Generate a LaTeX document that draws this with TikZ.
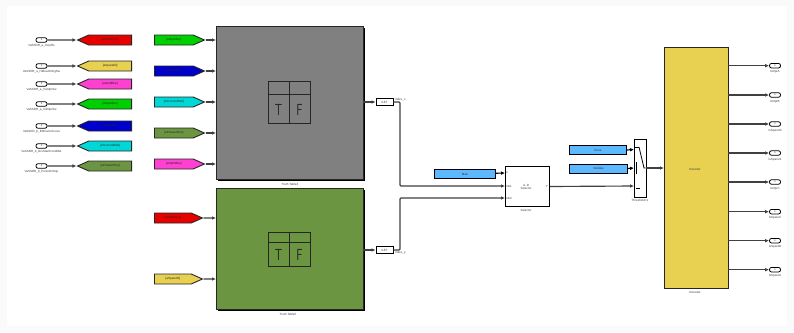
\documentclass[tikz,border=0pt]{standalone}
\usepackage{fontspec}
\setmainfont{Liberation Sans}
\usetikzlibrary{shapes.symbols,shapes.geometric,arrows.meta}
\definecolor{cred}{HTML}{E60000}
\definecolor{cyel}{HTML}{E8D050}
\definecolor{cmag}{HTML}{FF40D0}
\definecolor{cgrn}{HTML}{00D000}
\definecolor{cblu}{HTML}{0000CC}
\definecolor{ccya}{HTML}{00D8D8}
\definecolor{coli}{HTML}{6B9540}
\definecolor{cgry}{HTML}{808080}
\definecolor{csky}{HTML}{5CB8FF}
\newcommand{\tiptxt}{\fontsize{3}{3.5}\selectfont}
\tikzset{
  wire/.style={draw=black!75,line width=1.15pt,-{Latex[length=4pt,width=3.6pt]}},
  tagbase/.style={draw=black!85,line width=0.9pt,signal,signal pointer angle=48,inner sep=0pt,minimum height=10pt,font=\tiptxt,text=black!85},
  fromtag/.style={tagbase,signal to=east,signal from=nowhere,anchor=west,minimum width=50pt},
  gototag/.style={tagbase,signal to=west,signal from=nowhere,anchor=east,minimum width=54pt},
  port/.style={draw=black,line width=0.8pt,fill=white,rounded corners=2pt,minimum width=11pt,minimum height=4.5pt,inner sep=0pt,font=\fontsize{2.5}{3}\selectfont},
  lbl/.style={font=\tiptxt,text=black!75,inner sep=0pt},
  blk/.style={draw=black!85,line width=1pt,anchor=north west,inner sep=0pt},
  constb/.style={draw=black,line width=1pt,fill=csky,anchor=north west,inner sep=0pt,font=\tiptxt,text=black!80},
  getb/.style={draw=black,line width=0.9pt,fill=white,minimum width=17pt,minimum height=7.5pt,inner sep=0pt,font=\tiptxt,text=black!70},
  tfline/.style={draw=black!85,line width=0.9pt},
  tfbig/.style={font=\fontsize{16}{17}\selectfont\sffamily,text=black!85,inner sep=0pt,xscale=0.72}
}
\begin{document}
\begin{tikzpicture}[x=1pt,y=-1pt]
\useasboundingbox (0,0) rectangle (794,332);
\fill[black!2] (0,0) rectangle (794,332);
\fill[white] (7,6) rectangle (787,326);

% Left column: inports and tags
\foreach \nm/\y/\lab/\tg/\col in {
  a/40/VaSSDR\_a\_KeyIRs/[aKIRsKeys]/cred,
  b/66/VaSSDR\_a\_HiBeamOrigSw/[aSpareIO]/cyel,
  c/84/VaSSDR\_a\_InvOprSw/[aOprMBar]/cmag,
  d/104/VaSSDR\_a\_InitOprSw/[aOprABar]/cgrn,
  e/126/VaSSDR\_b\_EbtCalcnCurve/[aOprBBar]/cblu,
  f/146/VaSSDR\_b\_GrsStartCondMet/[aSrvCondMet]/ccya,
  g/166/VaSSDR\_b\_PeriodicStop/[aPressurRun]/coli}{
  \node[port] (in\nm) at (41.5,\y) {1};
  \node[lbl,anchor=north] (inl\nm) at (41.5,\y+4) {\lab};
  \node[gototag,fill=\col] (go\nm) at (132,\y) {\tg};
  \draw[wire] (in\nm) -- (go\nm);
}

% Truth tables
\fill[black] (218,28) rectangle (365,181);
\node[blk,fill=cgry,minimum width=147pt,minimum height=153pt] (tt1) at (216,26) {};
\node[lbl] (tt1l) at (290,184) {Truth Table4};
\fill[black] (218,190) rectangle (365,311);
\node[blk,fill=coli,minimum width=147pt,minimum height=121.5pt] (tt2) at (216,187.5) {};
\node[lbl] (tt2l) at (288,314.5) {Truth Table5};

% Truth-table icons
\draw[tfline] (268,81) rectangle (310,123) (268,94.5) -- (310,94.5) (289,81) -- (289,123);
\node[tfbig] (t1) at (278.5,110) {T};
\node[tfbig] (f1) at (299.5,110) {F};
\draw[tfline] (268,232) rectangle (310.5,266) (268,242.5) -- (310.5,242.5) (289.3,232) -- (289.3,266);
\node[tfbig] (t2) at (278.5,254.5) {T};
\node[tfbig] (f2) at (299.5,254.5) {F};

% From tags into truth tables
\foreach \nm/\y/\tg/\col in {
  h/40/[aOprABar]/cgrn,
  i/71/[aOprBBar]/cblu,
  j/102/[aSrvCondMet]/ccya,
  k/133/[aPressurRun]/coli,
  l/164/[aOprMBar]/cmag}{
  \node[fromtag,fill=\col] (fr\nm) at (154,\y) {\tg};
  \coordinate (e\nm) at (216,\y);
  \draw[wire] (fr\nm) -- (e\nm);
}
\foreach \nm/\y/\tg/\col in {m/218/[aKIRsKeys]/cred,n/279/[aSpareIO]/cyel}{
  \node[fromtag,fill=\col,minimum width=48pt] (fr\nm) at (154,\y) {\tg};
  \coordinate (e\nm) at (216,\y);
  \draw[wire] (fr\nm) -- (e\nm);
}

% GET and selector
\node[getb] (get1) at (384.5,102) {GET};
\node[getb] (get2) at (384.5,250) {GET};
\coordinate (o1) at (363,102);
\coordinate (o2) at (363,250);
\draw[wire] (o1) -- (get1);
\draw[wire] (o2) -- (get2);
\node[lbl,anchor=west] (ix) at (395,100) {index\_x};
\node[lbl,anchor=west] (iy) at (395,253) {index\_y};
\node[blk,fill=white,draw=black,minimum width=44pt,minimum height=40pt] (sel) at (505,166) {};
\node[lbl,align=center] (seltxt) at (526,187) {A..D\\Selector};
\node[lbl,anchor=west] (su) at (506,173) {u};
\node[lbl,anchor=west] (si1) at (506,186) {Idx1};
\node[lbl,anchor=west] (si2) at (506,198) {Idx2};
\node[lbl,anchor=east] (sy) at (548,186) {Y};
\node[lbl] (sell) at (526,210) {Selector};
\coordinate (s1) at (505,186);
\coordinate (s2) at (505,198);
\coordinate (s3) at (505,173);
\draw[wire,rounded corners=1pt] (get1.east) -- (400,102) -- (400,186) -- (s1);
\draw[wire,rounded corners=1pt] (get2.east) -- (400,250) -- (400,198) -- (s2);
\node[constb,minimum width=61pt,minimum height=9pt] (mainb) at (434,169) {Main};
\draw[wire,draw=black] (mainb) -- (s3);

% Constants and switch
\node[constb,minimum width=57pt,minimum height=9pt] (done) at (569,145) {Done};
\node[constb,minimum width=58pt,minimum height=9pt] (valid) at (569,163.5) {Validate};
\node[blk,fill=white,draw=black,minimum width=11.5pt,minimum height=58pt] (sw) at (634,139) {};
\node[lbl] (swl) at (640,200) {Threshold=1};
\coordinate (sw1) at (634,149.5);
\coordinate (sw2) at (634,168);
\coordinate (sw3) at (634,186);
\draw[wire,draw=black] (done.east) -- (sw1);
\draw[wire,draw=black] (valid.east) -- (sw2);
\draw[wire] (sel.east) -- (sw3);
\draw[draw=black,line width=0.8pt] (634,147.5) -- (639,147.5) (639,147) -- (644,168) -- (645.5,168);
\draw[draw=black,line width=0.8pt] (636,162) -- (636,174);
\draw[draw=black,line width=0.8pt] (636,188) -- (640,188);

% Decoder
\node[blk,fill=cyel,minimum width=63.5pt,minimum height=241pt] (dec) at (664,47) {};
\node[lbl] (dect) at (695,169) {Decoder};
\node[lbl] (decl) at (695,292) {Decoder};
\coordinate (din) at (664,168);
\draw[wire] (645.5,168) -- (din);

% Outports
\foreach \nm/\y/\lab in {
  a/65.7/IsOprA,b/95/IsOprB,c/124/IsSpareI0,d/153/IsSpareI1,
  e/182/IsOprC,f/211.7/IsSpareC,g/240.7/IsSpareB,h/269.7/IsSpareA}{
  \coordinate (do\nm) at (727.5,\y);
  \node[port] (out\nm) at (775,\y) {1};
  \node[lbl,anchor=north] (outl\nm) at (775,\y+5) {\lab};
  \draw[wire] (do\nm) -- (out\nm);
}
\end{tikzpicture}
\end{document}
